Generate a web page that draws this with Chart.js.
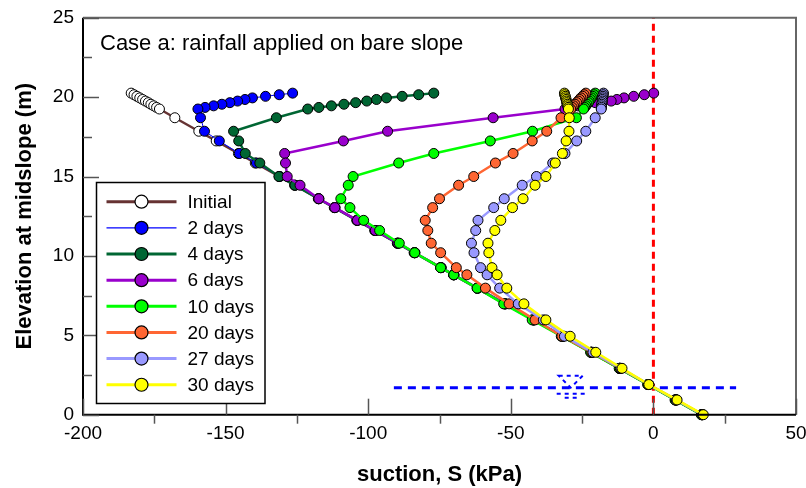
<!DOCTYPE html>
<html><head><meta charset="utf-8">
<script src="https://cdn.jsdelivr.net/npm/chart.js@4/dist/chart.umd.min.js"></script>
<style>html,body{margin:0;padding:0;background:#fff;overflow:hidden}</style>
</head><body>
<canvas id="c" width="806" height="488"></canvas>
<script>
// ---------- data ----------
const elevation = [20.25,20.15,20.05,19.95,19.85,19.75,19.65,19.55,19.45,19.35,19.25,
  18.7,17.85,17.24,16.45,15.85,15.0,14.45,13.6,13.04,12.24,11.6,10.8,10.2,9.26,8.81,7.97,6.98,5.97,4.94,3.93,2.92,1.9,0.93,0];
const sInitial = [-183.1,-182.1,-181.1,-180.1,-179.1,-178.1,-177.1,-176.2,-175.2,-174.2,-173.2,
  -167.8,-159.4,-153.3,-145.5,-139.6,-131.2,-125.8,-117.4,-111.8,-103.9,-97.6,-89.7,-83.8,-74.5,-70.0,-61.7,-52.0,-42.0,-31.8,-21.8,-11.8,-1.8,7.8,17.0];
const s2days = [-126.5,-131.2,-136.0,-140.6,-143.2,-145.8,-148.5,-151.3,-154.2,-157.2,-159.7,
  -158.8,-157.4,-152.2,-145.2,-139.2,-131.0,-125.6,-117.3,-111.6,-103.8,-97.5,-89.6,-83.6,-74.4,-69.9,-61.6,-51.9,-41.9,-31.7,-21.7,-11.7,-1.7,7.9,17.1];
const s4days = [-77.0,-82.3,-88.1,-93.6,-97.1,-100.5,-104.4,-108.5,-112.9,-117.3,-121.2,
  -132.2,-147.2,-145.4,-143.1,-138.0,-131.3,-125.7,-117.5,-111.9,-104.0,-97.7,-89.8,-83.9,-74.6,-70.1,-61.8,-52.1,-42.1,-31.9,-21.9,-11.9,-1.9,7.7,16.9];
const s6days = [0.1,-3.2,-6.9,-10.3,-12.8,-14.8,-20.4,-23.5,-26.5,-29.0,-31.0,
  -56.2,-93.2,-108.7,-129.3,-129.0,-128.4,-123.9,-117.3,-111.7,-103.8,-97.5,-89.6,-83.7,-74.5,-70.0,-61.7,-52.0,-42.0,-31.8,-21.8,-11.8,-1.8,7.8,17.0];
const s10days = [-20.4,-20.9,-21.3,-21.7,-22.1,-22.5,-22.8,-23.3,-23.7,-24.1,-24.5,
  -27.0,-42.4,-57.2,-77.0,-89.3,-105.3,-107.0,-109.6,-106.4,-101.6,-96.0,-89.1,-83.7,-74.6,-70.0,-61.8,-52.5,-42.5,-32.3,-22.0,-12.0,-2.0,7.6,16.8];
const s20days = [-23.7,-24.3,-24.8,-25.4,-25.9,-26.4,-26.9,-27.5,-28.0,-28.5,-29.0,
  -32.4,-37.4,-42.5,-49.2,-55.4,-63.0,-68.3,-75.0,-77.4,-80.0,-79.1,-77.9,-74.6,-69.1,-65.4,-58.9,-50.6,-41.5,-32.1,-21.6,-11.6,-1.6,8.0,17.2];
const s27days = [-17.5,-17.6,-17.7,-17.8,-17.9,-17.9,-18.0,-18.1,-18.2,-18.2,-18.3,
  -20.4,-23.7,-26.9,-31.0,-35.3,-41.0,-46.0,-52.3,-56.0,-61.5,-62.3,-63.8,-62.9,-60.6,-58.3,-53.9,-47.4,-38.6,-31.2,-21.2,-11.4,-1.6,8.0,17.2];
const s30days = [-31.2,-31.1,-30.9,-30.8,-30.6,-30.5,-30.4,-30.2,-30.1,-29.9,-29.8,
  -29.5,-29.6,-30.6,-31.9,-34.4,-37.7,-41.5,-45.7,-49.4,-53.5,-55.6,-58.0,-57.7,-56.6,-54.8,-51.4,-45.4,-37.7,-29.2,-20.2,-11.0,-1.6,8.3,17.5];
const seriesLabels = ['Initial','2 days','4 days','6 days','10 days','20 days','27 days','30 days'];
const xTickValues = [-200,-150,-100,-50,0,50];
const xMinorTicks = [-175,-125,-75,-25,25];
const yTickValues = [0,5,10,15,20,25];
const yMinorTicks = [2.5,7.5,12.5,17.5,22.5];
const waterTableLevel = 1.7;
const waterTableRange = [-91, 29];
const waterSymbolSuction = -29;
const zeroSuctionRange = [0, 25];
const caseTitle = 'Case a: rainfall applied on bare slope';

// ---------- styles ----------
const FONT = "'Liberation Sans', Arial, sans-serif";
const seriesValues = [sInitial,s2days,s4days,s6days,s10days,s20days,s27days,s30days];
const lineColors = ['#663333','#0000ff','#006633','#9900cc','#00ff00','#ff6633','#9999ff','#ffff00'];
const fillColors = ['#ffffff','#0000ff','#006633','#9900cc','#00ff00','#ff6633','#9999ff','#ffff00'];
const lineWidths = [2.5,1,2.5,2.5,2.5,2.5,2.5,2.5];

const datasets = seriesValues.map((vals,i)=>({
  label: seriesLabels[i],
  data: vals.map((s,k)=>({x:s, y:elevation[k]})),
  showLine: true,
  borderColor: lineColors[i],
  borderWidth: lineWidths[i],
  backgroundColor: fillColors[i],
  pointBackgroundColor: fillColors[i],
  pointBorderColor: '#000',
  pointBorderWidth: 1,
  pointRadius: 5,
  order: 7 - i,
  clip: false
}));
datasets.push({
  label: 'zero', data: zeroSuctionRange.map(e=>({x:0,y:e})), showLine:true,
  borderColor:'#ff0000', borderWidth:3, borderDash:[7,5], pointRadius:0, order:20, clip:false
});
datasets.push({
  label: 'water table', data: waterTableRange.map(s=>({x:s,y:waterTableLevel})), showLine:true,
  borderColor:'#0000ff', borderWidth:3, borderDash:[8,6], pointRadius:0, order:21, clip:false
});

const decor = {
  id:'decor',
  afterDraw(chart){
    const ctx = chart.ctx, a = chart.chartArea, xs = chart.scales.x, ys = chart.scales.y;
    ctx.save();
    // water table symbol
    const cx = xs.getPixelForValue(waterSymbolSuction), cy = ys.getPixelForValue(waterTableLevel);
    ctx.strokeStyle = '#0000ff'; ctx.lineWidth = 2; ctx.setLineDash([4,4]);
    ctx.beginPath(); ctx.moveTo(cx-12, cy-12); ctx.lineTo(cx+12, cy-12); ctx.lineTo(cx, cy); ctx.closePath(); ctx.stroke();
    ctx.beginPath(); ctx.moveTo(cx-14, cy+6); ctx.lineTo(cx+14, cy+6); ctx.stroke();
    ctx.beginPath(); ctx.moveTo(cx-6, cy+10); ctx.lineTo(cx+6, cy+10); ctx.stroke();
    ctx.setLineDash([]);
    // frame
    ctx.lineWidth = 2;
    ctx.strokeStyle = '#666';
    ctx.beginPath(); ctx.moveTo(a.left, a.top); ctx.lineTo(a.right, a.top); ctx.lineTo(a.right, a.bottom); ctx.stroke();
    ctx.strokeStyle = '#000';
    ctx.beginPath(); ctx.moveTo(a.left, a.top); ctx.lineTo(a.left, a.bottom); ctx.lineTo(a.right, a.bottom); ctx.stroke();
    // ticks
    ctx.strokeStyle = '#555'; ctx.lineWidth = 1.5;
    xTickValues.forEach(v=>{const p = Math.round(xs.getPixelForValue(v))+0.5; ctx.beginPath(); ctx.moveTo(p,a.bottom); ctx.lineTo(p,a.bottom-16); ctx.stroke();});
    xMinorTicks.forEach(v=>{const p = Math.round(xs.getPixelForValue(v))+0.5; ctx.beginPath(); ctx.moveTo(p,a.bottom); ctx.lineTo(p,a.bottom+9); ctx.stroke();});
    yTickValues.forEach(v=>{const p = Math.round(ys.getPixelForValue(v))+0.5; ctx.beginPath(); ctx.moveTo(a.left,p); ctx.lineTo(a.left+16,p); ctx.stroke();});
    yMinorTicks.forEach(v=>{const p = Math.round(ys.getPixelForValue(v))+0.5; ctx.beginPath(); ctx.moveTo(a.left,p); ctx.lineTo(a.left+9,p); ctx.stroke();});
    // case text
    ctx.fillStyle = '#000'; ctx.font = '22px ' + FONT; ctx.textAlign='left'; ctx.textBaseline='alphabetic';
    ctx.fillText(caseTitle, a.left + 17, a.top + 32);
    // legend
    const L = 96.5, T = 182.5, W = 168.5, H = 221;
    ctx.fillStyle = '#fff'; ctx.fillRect(L,T,W,H);
    ctx.strokeStyle = '#000'; ctx.lineWidth = 1.5; ctx.strokeRect(L,T,W,H);
    ctx.font = '19px ' + FONT; ctx.textBaseline = 'middle';
    seriesLabels.forEach((lab,i)=>{
      const y = 201.7 + i*26.15;
      ctx.strokeStyle = lineColors[i]; ctx.lineWidth = lineWidths[i] === 1 ? 1.2 : 3;
      ctx.beginPath(); ctx.moveTo(106.5,y); ctx.lineTo(176.5,y); ctx.stroke();
      ctx.beginPath(); ctx.arc(141.5,y,6.5,0,Math.PI*2); ctx.fillStyle = fillColors[i]; ctx.fill();
      ctx.strokeStyle = '#000'; ctx.lineWidth = 1.2; ctx.stroke();
      ctx.fillStyle = '#000'; ctx.fillText(lab, 187.5, y+1);
    });
    ctx.restore();
  }
};

new Chart(document.getElementById('c'), {
  type:'scatter',
  data:{datasets},
  plugins:[decor],
  options:{
    responsive:false, animation:false, devicePixelRatio:1,
    layout:{padding:{top:17.7, right:10, left:0, bottom:0}},
    plugins:{legend:{display:false}, tooltip:{enabled:false}},
    scales:{
      x:{type:'linear', min:-200, max:50,
        afterBuildTicks:s=>{s.ticks = xTickValues.map(v=>({value:v}));},
        afterFit:s=>{s.height = 73.3; s.paddingLeft = 0; s.paddingRight = 0;},
        grid:{display:false, drawTicks:false}, border:{display:false},
        ticks:{font:{family:FONT,size:19}, color:'#000', padding:8, maxRotation:0, autoSkip:false},
        title:{display:true, text:'suction, S (kPa)', color:'#000', font:{family:FONT,size:22,weight:'bold'}, padding:{top:0,bottom:0}}
      },
      y:{type:'linear', min:0, max:25,
        afterBuildTicks:s=>{s.ticks = yTickValues.map(v=>({value:v}));},
        afterFit:s=>{s.width = 83; s.paddingTop = 0; s.paddingBottom = 0;},
        grid:{display:false, drawTicks:false}, border:{display:false},
        ticks:{font:{family:FONT,size:19}, color:'#000', padding:9, autoSkip:false},
        title:{display:true, text:'Elevation at midslope (m)', color:'#000', font:{family:FONT,size:22,weight:'bold'}, padding:{top:12,bottom:0}}
      }
    }
  }
});
</script>
</body></html>
